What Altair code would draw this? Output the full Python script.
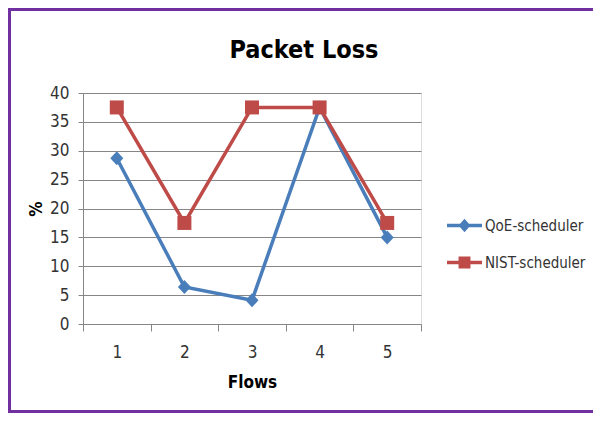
import altair as alt
import pandas as pd

flows = ["1", "2", "3", "4", "5"]
qoe = [28.7, 6.4, 4.1, 37.5, 15.0]
nist = [37.5, 17.5, 37.5, 37.5, 17.5]
series_names = ["QoE-scheduler", "NIST-scheduler"]
colors = ["#4A7EBB", "#BE4B48"]
y_ticks = [0, 5, 10, 15, 20, 25, 30, 35, 40]
chart_title = "Packet Loss"

rows = []
for s, vals in zip(series_names, [qoe, nist]):
    for f, v in zip(flows, vals):
        rows.append({"Flows": f, "Loss": v, "Series": s})
df = pd.DataFrame(rows)

FONT = "DejaVu Sans Condensed, Liberation Sans Narrow, Liberation Sans, sans-serif"
GRAY = "#868686"
PURPLE = "#7030A0"
W, H = 338, 231

diamond = "M0,-1L0.93,0L0,1L-0.93,0Z"
square = "M-1,-1H1V1H-1Z"
leg_diamond = "M-1,-0.1H1V0.1H-1Z M0,-0.38L0.34,0L0,0.38L-0.34,0Z"
leg_square = "M-1,-0.1H1V0.1H-1Z M-0.34,-0.34H0.34V0.34H-0.34Z"
marker_paths = [diamond, square]

x_enc = alt.X(
    "Flows:O", sort=flows,
    scale=alt.Scale(type="band", paddingInner=0, paddingOuter=0),
    bandPosition=0.5,
    axis=alt.Axis(title="Flows", labelAngle=0, tickBand="extent", grid=False,
                  domainColor=GRAY, tickColor=GRAY, tickSize=7,
                  labelPadding=13, labelFont=FONT, labelFontSize=17,
                  labelColor="#333333", titleFont=FONT, titleFontSize=17,
                  titleFontWeight="bold", titleColor="black", titlePadding=14),
)
y_enc = alt.Y(
    "Loss:Q", scale=alt.Scale(domain=[0, 40], nice=False),
    axis=alt.Axis(title="%", values=y_ticks, grid=True, gridColor=GRAY,
                  domainColor=GRAY, tickColor=GRAY, tickSize=5, labelPadding=9,
                  labelFont=FONT, labelFontSize=17, labelColor="#333333",
                  titleFont=FONT, titleFontSize=17, titleFontWeight="bold",
                  titleColor="black", titlePadding=4),
)

legend = alt.Legend(title=None, orient="none", legendX=363, legendY=114,
                    symbolSize=1225, symbolOpacity=1, labelFont=FONT,
                    labelFontSize=15, labelColor="#333333", labelOffset=2,
                    rowPadding=8, padding=0)

one = alt.Data(values=[{}])
border_left = alt.Chart(one).mark_rule(color=PURPLE, strokeWidth=3).encode(
    x=alt.value(-73.5), y=alt.value(-85), y2=alt.value(320))
border_top = alt.Chart(one).mark_rule(color=PURPLE, strokeWidth=3).encode(
    y=alt.value(-83.5), x=alt.value(-75), x2=alt.value(515))
border_bottom = alt.Chart(one).mark_rule(color=PURPLE, strokeWidth=3).encode(
    y=alt.value(318.5), x=alt.value(-75), x2=alt.value(515))

title_layer = alt.Chart(alt.Data(values=[{"t": chart_title}])).mark_text(
    font=FONT, fontSize=25, fontWeight="bold", color="black",
    align="center", baseline="alphabetic"
).encode(text="t:N", x=alt.value(221), y=alt.value(-35))

series_layers = []
for name, col, path in zip(series_names, colors, marker_paths):
    base = alt.Chart(df).transform_filter(alt.datum.Series == name)
    series_layers.append(base.mark_line(strokeWidth=3.5, color=col).encode(x=x_enc, y=y_enc))
for name, col, path in zip(series_names, colors, marker_paths):
    base = alt.Chart(df).transform_filter(alt.datum.Series == name)
    series_layers.append(base.mark_point(filled=True, shape=path, size=196,
                                         opacity=1, color=col).encode(x=x_enc, y=y_enc))

leg_layer = alt.Chart(df).mark_point(filled=True, size=0).encode(
    x=x_enc, y=y_enc,
    fill=alt.Fill("Series:N", scale=alt.Scale(domain=series_names, range=colors),
                  legend=legend),
    shape=alt.Shape("Series:N", scale=alt.Scale(domain=series_names,
                                                range=[leg_diamond, leg_square]),
                    legend=legend),
)

chart = alt.layer(border_left, border_top, border_bottom, title_layer,
                  *series_layers, leg_layer).properties(
    width=W, height=H,
    autosize=alt.AutoSizeParams(type="none"),
    padding={"left": 75, "top": 85, "right": 172, "bottom": 89},
).configure_view(stroke="transparent").configure(background="white")

chart.save("out.html", embed_options={"renderer": "svg", "actions": False})
